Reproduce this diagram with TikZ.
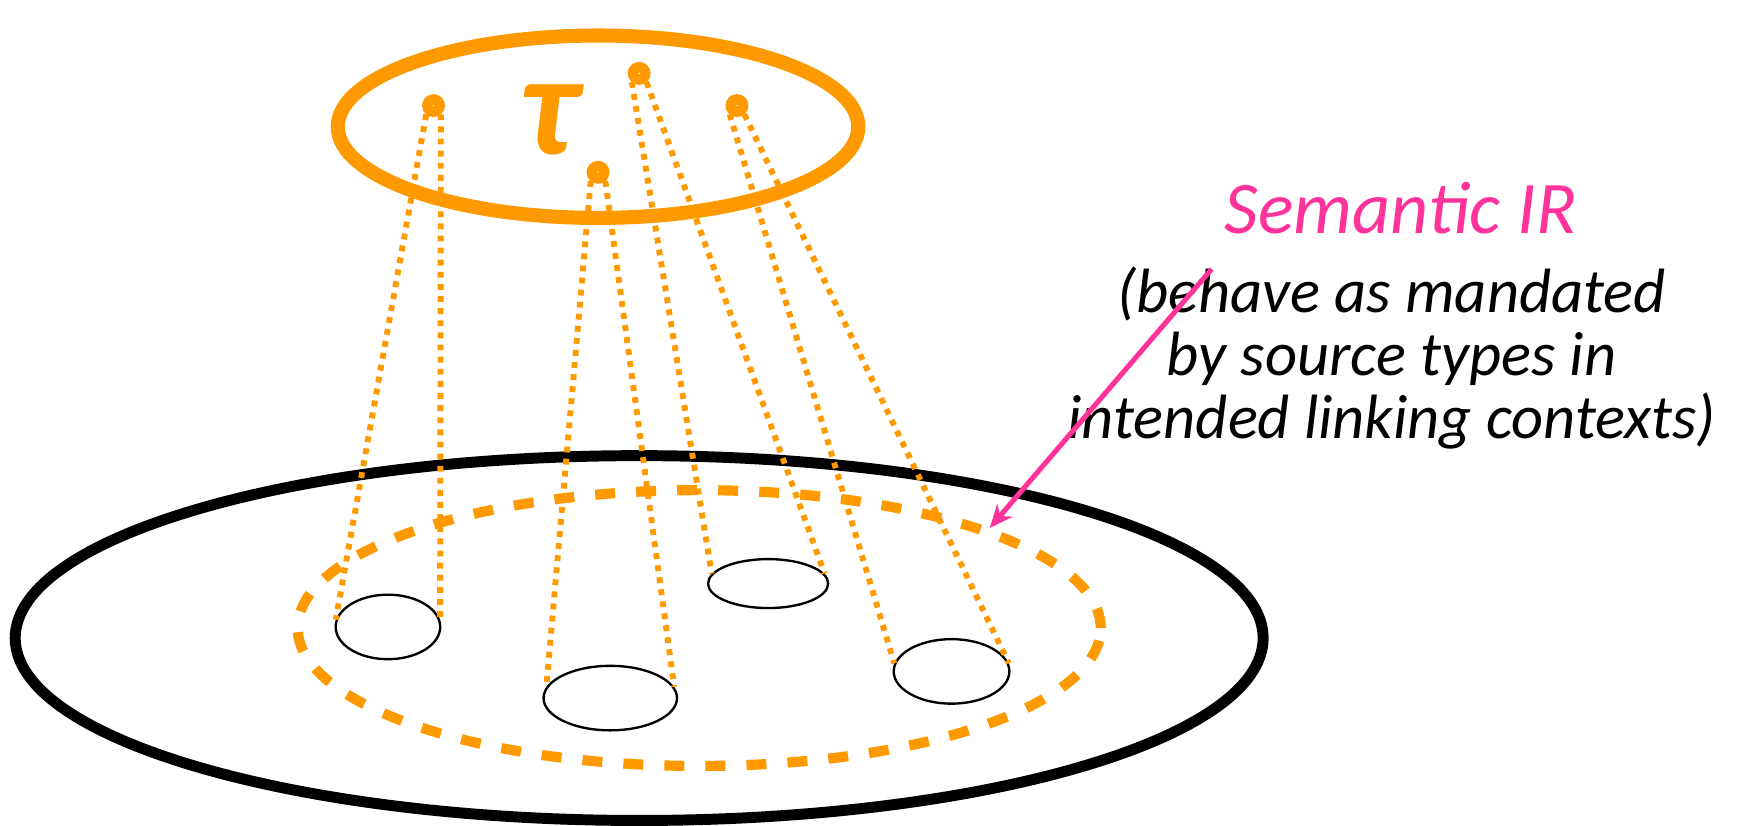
\documentclass[tikz,border=0pt]{standalone}
\usepackage{fontspec}
\setmainfont{Carlito}
\usetikzlibrary{shapes.geometric,arrows.meta}

\definecolor{tauorange}{RGB}{255,153,0}
\definecolor{irpink}{RGB}{255,51,153}

\begin{document}
\begin{tikzpicture}[x=0.01cm, y=-0.01cm,
    blob/.style = {draw, ellipse, inner sep=0pt, line width=0.6pt},
    dot/.style = {draw=tauorange, circle, fill=white, inner sep=0pt, minimum size=0.11cm, line width=2.7pt},
    link/.style = {draw=tauorange, line width=1.5pt, dash pattern=on 1.5pt off 1.6pt},
    note/.style = {font=\itshape\fontsize{16}{16.2}\selectfont, align=center}]
    \useasboundingbox (0,0) rectangle (1568,743);
    % the three big rings
    \node[ellipse, draw, line width=2.8pt, minimum width=11.22cm, minimum height=3.28cm] (world) at (575,574) {};
    \node[ellipse, draw=tauorange, line width=2.6pt, dash pattern=on 5.1pt off 5.4pt,
        minimum width=7.22cm, minimum height=2.48cm] (ir) at (629,565) {};
    \node[ellipse, draw=tauorange, line width=3.6pt, minimum width=4.68cm, minimum height=1.64cm] (tau) at (538,114) {};
    \node[text=tauorange, font=\bfseries\itshape\fontsize{37}{37}\selectfont] (t) at (494,108) {τ};
    % small sets
    \node[blob, minimum width=0.94cm, minimum height=0.58cm] (s1) at (349,564) {};
    \node[blob, minimum width=1.2cm, minimum height=0.58cm] (s2) at (549,628) {};
    \node[blob, minimum width=1.08cm, minimum height=0.44cm] (s3) at (691,525) {};
    \node[blob, minimum width=1.04cm, minimum height=0.58cm] (s4) at (856,604) {};
    % points of tau
    \node[dot] (d1) at (390,95) {};
    \node[dot] (d2) at (538,155) {};
    \node[dot] (d3) at (575,66) {};
    \node[dot] (d4) at (663,95) {};
    \path[link]
        (d1.230) edge (s1.172)
        (d1.-50) edge (s1.8)
        (d2.230) edge (s2.170)
        (d2.-50) edge (s2.10)
        (d3.230) edge (s3.170)
        (d3.-50) edge (s3.10)
        (d4.230) edge (s4.172)
        (d4.-50) edge (s4.8);
    % label and pointer
    \node[text=irpink, font=\itshape\fontsize{19}{21}\selectfont] (title) at (1260,187) {Semantic IR};
    \node[note] (gloss) at (1252,322) {(behave as mandated\\by source types in\\intended linking contexts)};
    \coordinate (src) at (1090,242);
    \draw[irpink, line width=1.3pt, -{Stealth[length=0.21cm, width=0.18cm]}] (src) -- (ir.19);
\end{tikzpicture}
\end{document}
